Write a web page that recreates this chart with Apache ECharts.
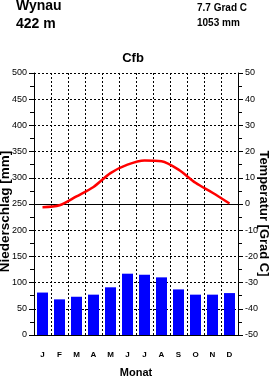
<!DOCTYPE html>
<html><head><meta charset="utf-8">
<script src="https://cdn.jsdelivr.net/npm/echarts@6/dist/echarts.min.js"></script>
<style>html,body{margin:0;padding:0;background:#fff}#c{width:270px;height:378px}</style>
</head><body><div id="c"></div>
<script>
const months = ['J','F','M','A','M','J','J','A','S','O','N','D'];
const precipitation = [81, 68, 73, 77, 91, 117, 115, 110, 87, 77, 77, 80];
const temperature = [-1.2, -0.5, 2.9, 6.5, 11.8, 15.0, 16.6, 16.3, 13.1, 8.1, 4.3, 0.2];
const station = 'Wynau';
const elevation = '422 m';
const meanTemp = '7.7 Grad C';
const totalPrecip = '1053 mm';
const climateClass = 'Cfb';

const F = 'Liberation Sans, Arial, Helvetica, sans-serif';
const chart = echarts.init(document.getElementById('c'), null, {renderer:'canvas'});
const dash = [2,2];
chart.setOption({
  animation:false,
  backgroundColor:'#fff',
  grid:{left:34,right:32,top:73,bottom:43},
  graphic:[
    {type:'text',x:16,y:6,style:{text:station,font:'bold 14px '+F,fill:'#000',verticalAlign:'middle'}},
    {type:'text',x:16,y:24,style:{text:elevation,font:'bold 14px '+F,fill:'#000',verticalAlign:'middle'}},
    {type:'text',x:197,y:8,style:{text:meanTemp,font:'bold 10px '+F,fill:'#000',verticalAlign:'middle'}},
    {type:'text',x:197,y:23.5,style:{text:totalPrecip,font:'bold 10px '+F,fill:'#000',verticalAlign:'middle'}},
    {type:'text',x:133,y:58.5,style:{text:climateClass,font:'bold 13px '+F,fill:'#000',align:'center',verticalAlign:'middle'}},
    {type:'text',x:5,y:211.5,rotation:Math.PI/2,style:{text:'Niederschlag [mm]',font:'bold 13.5px '+F,fill:'#000',align:'center',verticalAlign:'middle'}},
    {type:'text',x:264,y:213.5,rotation:-Math.PI/2,style:{text:'Temperatur [Grad C]',font:'bold 13px '+F,fill:'#000',align:'center',verticalAlign:'middle'}},
    {type:'text',x:136,y:373,style:{text:'Monat',font:'bold 11px '+F,fill:'#000',align:'center',verticalAlign:'middle'}}
  ],
  xAxis:{type:'category',data:months,boundaryGap:true,
    axisLine:{lineStyle:{color:'#000',width:1}},
    axisTick:{show:false},
    axisLabel:{color:'#000',fontFamily:F,fontWeight:'bold',fontSize:8,margin:16,interval:0},
    splitLine:{show:true,interval:0,lineStyle:{color:'#000',type:dash,width:1}}
  },
  yAxis:[
    {type:'value',min:0,max:500,interval:50,position:'left',
     axisLine:{show:true,lineStyle:{color:'#000'}},
     axisTick:{show:true,length:5,inside:false,lineStyle:{color:'#000'}},
     minorTick:{show:true,splitNumber:2,length:4,lineStyle:{color:'#000'}},
     axisLabel:{color:'#000',fontFamily:F,fontSize:9,margin:7},
     splitLine:{show:true,lineStyle:{color:'#000',type:dash,width:1}}},
    {type:'value',min:-50,max:50,interval:10,position:'right',
     axisLine:{show:true,lineStyle:{color:'#000'}},
     axisTick:{show:true,length:5,inside:false,lineStyle:{color:'#000'}},
     minorTick:{show:true,splitNumber:2,length:4,lineStyle:{color:'#000'}},
     axisLabel:{color:'#000',fontFamily:F,fontSize:9,margin:7},
     splitLine:{show:false}}
  ],
  series:[
    {type:'bar',data:precipitation,yAxisIndex:0,barCategoryGap:'35%',itemStyle:{color:'#0000ff'},z:1},
    {type:'line',data:temperature,yAxisIndex:1,smooth:0.3,showSymbol:false,symbol:'none',
     lineStyle:{color:'#ff0000',width:2.5},z:5,
     markLine:{silent:true,symbol:'none',label:{show:false},lineStyle:{color:'#000',type:'solid',width:1},data:[{yAxis:0}],z:3}}
  ]
});
</script></body></html>
